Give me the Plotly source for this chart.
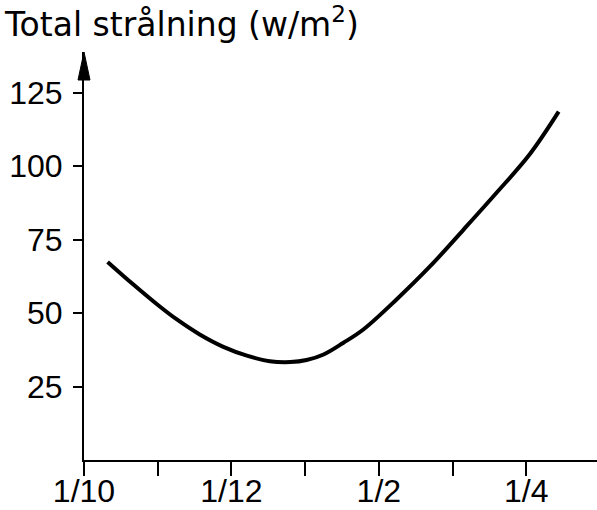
import plotly.graph_objects as go

# months since 1 October (0 = 1/10, 2 = 1/12, 4 = 1/2, 6 = 1/4)
month_pos = [0.32, 0.67, 0.99, 1.26, 1.57, 1.89, 2.21, 2.52, 2.80, 3.02, 3.25,
             3.52, 3.79, 4.24, 4.70, 5.15, 5.60, 6.05, 6.44]
radiation = [67.4, 59.7, 53.0, 47.8, 42.7, 38.5, 35.5, 33.6, 33.3, 34.0, 35.9,
             39.9, 44.4, 54.6, 66.0, 78.4, 91.0, 104.1, 118.5]

x_tick_vals = [0, 1, 2, 3, 4, 5, 6]
x_label_vals = [0, 2, 4, 6]
x_label_text = ["1/10", "1/12", "1/2", "1/4"]
y_tick_vals = [25, 50, 75, 100, 125]
y_tick_text = ["25", "50", "75", "100", "125"]

TICK_FONT = dict(family="Liberation Sans", size=32, color="black")

fig = go.Figure()
fig.add_trace(go.Scatter(
    x=month_pos, y=radiation, mode="lines",
    line=dict(color="black", width=4, shape="spline", smoothing=1.0),
    hoverinfo="skip", showlegend=False,
))

fig.update_layout(
    width=597, height=510,
    margin=dict(l=84, r=0, t=52, b=50, autoexpand=False),
    paper_bgcolor="white", plot_bgcolor="white",
    font=dict(family="Liberation Sans", size=31, color="black"),
    title=dict(
        text="Total strålning (w/m<sup>2</sup>)",
        font=dict(family="DejaVu Sans", size=33, color="black"),
        xref="container", x=5 / 597, xanchor="left",
        yref="container", y=1 - 13 / 510, yanchor="top",
    ),
    xaxis=dict(
        range=[0, 6.96], showgrid=False, zeroline=False, automargin=False,
        showline=True, linecolor="black", linewidth=2,
        ticks="", tickvals=x_label_vals, ticktext=x_label_text,
        tickfont=TICK_FONT, ticklabelstandoff=2,
        minor=dict(ticks="outside", ticklen=14, tickwidth=2, tickcolor="black",
                   tickmode="array", tickvals=x_tick_vals, showgrid=False),
    ),
    yaxis=dict(
        range=[0, 138.8], showgrid=False, zeroline=False, automargin=False,
        showline=True, linecolor="black", linewidth=2,
        ticks="outside", ticklen=9, tickwidth=2, tickcolor="black",
        tickvals=y_tick_vals, ticktext=y_tick_text, tickfont=TICK_FONT,
        ticklabelstandoff=4,
    ),
    shapes=[dict(
        type="path", xref="paper", yref="paper",
        xsizemode="pixel", ysizemode="pixel", xanchor=0, yanchor=1,
        path="M -6,-28 L 0,0 L 6,-28 Z",
        fillcolor="black", line=dict(color="black", width=1),
    )],
)

fig.write_html(
    "out.html",
    config={"displayModeBar": False, "staticPlot": True},
    post_script="document.body.style.margin='0';document.body.style.overflow='hidden';",
)
